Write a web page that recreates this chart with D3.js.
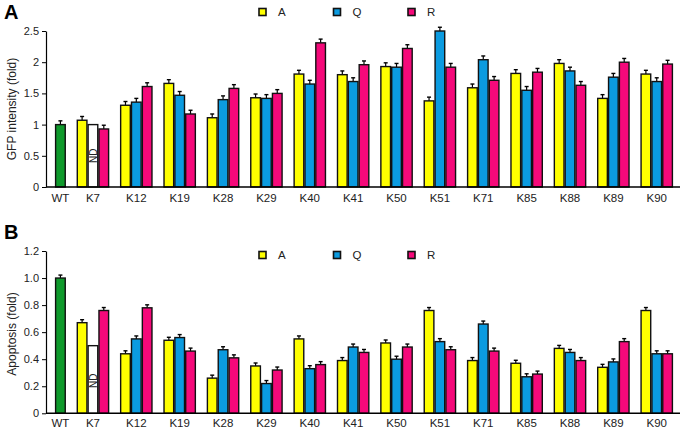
<!DOCTYPE html>
<html><head><meta charset="utf-8">
<script src="https://cdn.jsdelivr.net/npm/d3@7"></script>
<style>
body{margin:0;background:#fff;}
svg{display:block;font-family:"Liberation Sans",Arial,sans-serif;}
</style></head>
<body><svg id="c" width="680" height="432"></svg>
<script>
const groups = ["K7","K12","K19","K28","K29","K40","K41","K50","K51","K71","K85","K88","K89","K90"];
const seriesNames = ["A","Q","R"];
const colors = {WT:"#0f9a2c", A:"#ffff00", Q:"#0b9be0", R:"#f5097a"};

// Panel A: GFP intensity (fold)
const gfpWT = 1.0;
const gfpA = [1.07,1.31,1.66,1.11,1.43,1.81,1.80,1.93,1.38,1.59,1.82,1.98,1.42,1.81];
const gfpQ = [1.00,1.36,1.47,1.40,1.42,1.65,1.69,1.92,2.50,2.04,1.55,1.86,1.76,1.69];
const gfpR = [0.93,1.61,1.17,1.58,1.50,2.31,1.96,2.22,1.92,1.71,1.84,1.63,2.00,1.97];
const gfpErr = 0.06;
const gfpTicks = [0,0.5,1,1.5,2,2.5];
const gfpTickLabels = ["0","0.5","1","1.5","2","2.5"];

// Panel B: Apoptosis (fold)
const apoWT = 1.0;
const apoA = [0.67,0.44,0.54,0.26,0.35,0.55,0.39,0.52,0.76,0.39,0.37,0.48,0.34,0.76];
const apoQ = [0.50,0.55,0.56,0.47,0.22,0.33,0.49,0.40,0.53,0.66,0.27,0.45,0.38,0.44];
const apoR = [0.76,0.78,0.46,0.41,0.32,0.36,0.45,0.49,0.47,0.46,0.29,0.39,0.53,0.44];
const apoErr = 0.022;
const apoTicks = [0,0.2,0.4,0.6,0.8,1.0,1.2];
const apoTickLabels = ["0","0.2","0.4","0.6","0.8","1.0","1.2"];

const ndIndex = 0; // K7 Q not determined

const svg = d3.select("#c");
// slot scale: WT occupies slot 0, each group 3 slots + 1 gap
const nSlots = 2 + groups.length*4 - 1;
const x = d3.scaleLinear().domain([0, nSlots]).range([55, 673]);
const bw = x(1) - x(0);
const axisX = 46;

function panel(cfg){
  const y = d3.scaleLinear().domain(cfg.domain).range(cfg.range);
  const g = svg.append("g");
  // y axis
  const ax = g.append("g").attr("transform",`translate(${axisX},0)`)
    .call(d3.axisLeft(y).tickValues(cfg.ticks).tickFormat((d,i)=>cfg.tickLabels[i]).tickSize(4).tickPadding(3).tickSizeOuter(0));
  ax.select(".domain").attr("stroke","#000").attr("stroke-width",1.2);
  ax.selectAll(".tick line").attr("stroke","#000");
  ax.selectAll(".tick text").attr("font-size",11).attr("fill","#222").attr("font-family","Liberation Sans, Arial, sans-serif");

  // bars data
  const bars = [{cat:"WT", s:"WT", v:cfg.wt, slot:0}];
  groups.forEach((k,gi)=>{
    [cfg.a,cfg.q,cfg.r].forEach((arr,si)=>{
      bars.push({cat:k, s:seriesNames[si], v:arr[gi], slot:2+gi*4+si, nd:(si===1 && gi===ndIndex)});
    });
  });
  const b = g.append("g");
  b.selectAll("line.err").data(bars.filter(d=>!d.nd)).join("g").each(function(d){
    const cx = x(d.slot)+bw/2;
    const sel = d3.select(this);
    sel.append("line").attr("x1",cx).attr("x2",cx).attr("y1",y(d.v)).attr("y2",y(d.v+cfg.err)).attr("stroke","#000").attr("stroke-width",1.2);
    sel.append("line").attr("x1",cx-2).attr("x2",cx+2).attr("y1",y(d.v+cfg.err)).attr("y2",y(d.v+cfg.err)).attr("stroke","#000").attr("stroke-width",1.4);
  });
  b.selectAll("rect").data(bars).join("rect")
    .attr("x",d=>x(d.slot)+0.6).attr("width",bw-1.2)
    .attr("y",d=>y(d.v)).attr("height",d=>y(0)-y(d.v))
    .attr("fill",d=>d.nd?"#fff":colors[d.s])
    .attr("stroke","#111").attr("stroke-width",1.4);
  // ND label
  const nd = bars.find(d=>d.nd);
  const ndx = x(nd.slot)+bw/2+4, ndy = y(0) - (y(0)-y(cfg.domain[1]))*cfg.ndFrac;
  g.append("text").attr("transform",`translate(${ndx},${ndy}) rotate(-90)`).attr("text-anchor","middle")
    .attr("font-size",10).attr("fill","#222").text("ND");

  // x axis line
  g.append("line").attr("x1",axisX).attr("x2",680).attr("y1",y(0)).attr("y2",y(0)).attr("stroke","#000").attr("stroke-width",1.4);
  // category labels
  const cats = [{k:"WT",c:x(0)+bw/2}].concat(groups.map((k,gi)=>({k, c:x(2+gi*4)+1.5*bw})));
  g.selectAll("text.cat").data(cats).join("text").attr("class","cat")
    .attr("x",d=>d.c).attr("y",cfg.labelY).attr("text-anchor","middle").attr("font-size",11.5).attr("fill","#222").text(d=>d.k);

  // y title
  g.append("text").attr("transform",`translate(16,${cfg.titleY}) rotate(-90)`).attr("text-anchor","middle")
    .attr("font-size",12).attr("fill","#222").text(cfg.title);
  // panel letter
  g.append("text").attr("x",4).attr("y",cfg.letterY).attr("font-size",20).attr("font-weight","bold").attr("fill","#000").text(cfg.letter);
  // legend
  const lg = g.append("g");
  seriesNames.forEach((s,i)=>{
    const lx = 259 + i*74.5;
    lg.append("rect").attr("x",lx).attr("y",cfg.legendY-3.5).attr("width",7).attr("height",7)
      .attr("fill",colors[s]).attr("stroke","#111").attr("stroke-width",1.6);
    lg.append("text").attr("x",lx+19).attr("y",cfg.legendY+4).attr("font-size",11.5).attr("fill","#222").text(s);
  });
}

panel({domain:[0,2.5], range:[187,31], ticks:gfpTicks, tickLabels:gfpTickLabels,
  wt:gfpWT, a:gfpA, q:gfpQ, r:gfpR, err:gfpErr, labelY:202, title:"GFP intensity (fold)", titleY:109,
  letter:"A", letterY:19, legendY:12, ndFrac:0.2});
panel({domain:[0,1.2], range:[413.3,251], ticks:apoTicks, tickLabels:apoTickLabels,
  wt:apoWT, a:apoA, q:apoQ, r:apoR, err:apoErr, labelY:427, title:"Apoptosis (fold)", titleY:334,
  letter:"B", letterY:239, legendY:255, ndFrac:0.2});
</script></body></html>
